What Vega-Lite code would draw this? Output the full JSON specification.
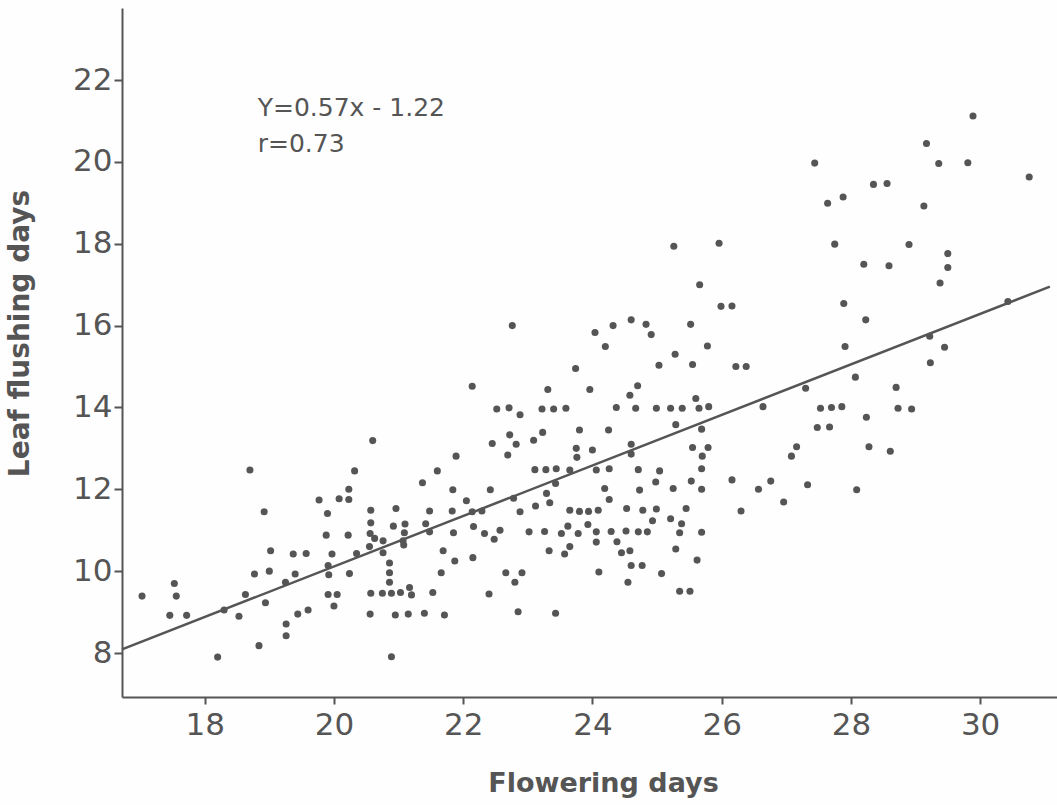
{
  "$schema": "https://vega.github.io/schema/vega-lite/v6.json",
  "width": 935,
  "height": 689,
  "autosize": {"type": "none"},
  "padding": {"left": 122, "top": 8, "right": 0, "bottom": 108},
  "background": "#fefefe",
  "config": {"view": {"stroke": null}},
  "datasets": {
    "points": [
      {"flowering": 17.03, "leaf": 9.39}, {"flowering": 17.53, "leaf": 9.7}, {"flowering": 17.56, "leaf": 9.39}, {"flowering": 17.46, "leaf": 8.92}, {"flowering": 17.72, "leaf": 8.92},
      {"flowering": 18.7, "leaf": 12.47}, {"flowering": 18.92, "leaf": 11.45}, {"flowering": 19.02, "leaf": 10.5}, {"flowering": 18.77, "leaf": 9.93}, {"flowering": 19.0, "leaf": 10.0},
      {"flowering": 18.63, "leaf": 9.43}, {"flowering": 18.3, "leaf": 9.05}, {"flowering": 18.53, "leaf": 8.9}, {"flowering": 18.94, "leaf": 9.23}, {"flowering": 18.2, "leaf": 7.9},
      {"flowering": 18.84, "leaf": 8.18}, {"flowering": 19.26, "leaf": 8.71}, {"flowering": 19.26, "leaf": 8.42}, {"flowering": 19.44, "leaf": 8.95}, {"flowering": 19.6, "leaf": 9.05},
      {"flowering": 19.25, "leaf": 9.73}, {"flowering": 19.4, "leaf": 9.93}, {"flowering": 19.37, "leaf": 10.42}, {"flowering": 19.57, "leaf": 10.43}, {"flowering": 19.77, "leaf": 11.74},
      {"flowering": 19.9, "leaf": 11.41}, {"flowering": 20.08, "leaf": 11.77}, {"flowering": 20.23, "leaf": 11.75}, {"flowering": 20.23, "leaf": 12.0}, {"flowering": 20.32, "leaf": 12.45},
      {"flowering": 19.88, "leaf": 10.88}, {"flowering": 19.97, "leaf": 10.42}, {"flowering": 19.91, "leaf": 10.14}, {"flowering": 19.92, "leaf": 9.91}, {"flowering": 20.22, "leaf": 10.88},
      {"flowering": 20.24, "leaf": 9.94}, {"flowering": 19.91, "leaf": 9.43}, {"flowering": 20.05, "leaf": 9.43}, {"flowering": 20.0, "leaf": 9.15}, {"flowering": 20.35, "leaf": 10.43},
      {"flowering": 20.6, "leaf": 13.19}, {"flowering": 20.57, "leaf": 11.49}, {"flowering": 20.57, "leaf": 11.18}, {"flowering": 20.56, "leaf": 10.92}, {"flowering": 20.63, "leaf": 10.8},
      {"flowering": 20.76, "leaf": 10.74}, {"flowering": 20.55, "leaf": 10.6}, {"flowering": 20.76, "leaf": 10.45}, {"flowering": 20.86, "leaf": 10.2}, {"flowering": 20.86, "leaf": 9.96},
      {"flowering": 20.86, "leaf": 9.73}, {"flowering": 20.57, "leaf": 9.46}, {"flowering": 20.75, "leaf": 9.46}, {"flowering": 20.89, "leaf": 9.46}, {"flowering": 21.03, "leaf": 9.48},
      {"flowering": 21.17, "leaf": 9.6}, {"flowering": 21.2, "leaf": 9.42}, {"flowering": 21.53, "leaf": 9.48}, {"flowering": 20.56, "leaf": 8.95}, {"flowering": 20.95, "leaf": 8.93},
      {"flowering": 21.15, "leaf": 8.95}, {"flowering": 21.4, "leaf": 8.97}, {"flowering": 21.71, "leaf": 8.93}, {"flowering": 20.89, "leaf": 7.91}, {"flowering": 20.96, "leaf": 11.53},
      {"flowering": 20.92, "leaf": 11.1}, {"flowering": 21.1, "leaf": 11.15}, {"flowering": 21.09, "leaf": 10.94}, {"flowering": 21.07, "leaf": 10.74}, {"flowering": 21.08, "leaf": 10.64},
      {"flowering": 21.37, "leaf": 12.16}, {"flowering": 21.48, "leaf": 11.47}, {"flowering": 21.42, "leaf": 11.16}, {"flowering": 21.48, "leaf": 10.96}, {"flowering": 21.6, "leaf": 12.45},
      {"flowering": 21.89, "leaf": 12.81}, {"flowering": 21.84, "leaf": 11.99}, {"flowering": 22.05, "leaf": 11.72}, {"flowering": 21.83, "leaf": 11.47}, {"flowering": 21.85, "leaf": 10.94},
      {"flowering": 21.69, "leaf": 10.5}, {"flowering": 21.87, "leaf": 10.25}, {"flowering": 21.66, "leaf": 9.96}, {"flowering": 22.16, "leaf": 11.09}, {"flowering": 22.15, "leaf": 10.33},
      {"flowering": 22.29, "leaf": 11.47}, {"flowering": 22.14, "leaf": 11.45}, {"flowering": 22.42, "leaf": 11.99}, {"flowering": 22.33, "leaf": 10.92}, {"flowering": 22.48, "leaf": 10.78},
      {"flowering": 22.57, "leaf": 11.0}, {"flowering": 22.4, "leaf": 9.44}, {"flowering": 22.45, "leaf": 13.12}, {"flowering": 22.72, "leaf": 13.33}, {"flowering": 22.82, "leaf": 13.1},
      {"flowering": 22.69, "leaf": 12.84}, {"flowering": 23.09, "leaf": 13.2}, {"flowering": 23.11, "leaf": 12.48}, {"flowering": 22.78, "leaf": 11.78}, {"flowering": 22.88, "leaf": 11.45},
      {"flowering": 23.12, "leaf": 11.59}, {"flowering": 23.02, "leaf": 10.96}, {"flowering": 22.66, "leaf": 9.96}, {"flowering": 22.91, "leaf": 9.96}, {"flowering": 22.8, "leaf": 9.73},
      {"flowering": 22.85, "leaf": 9.01},
      {"flowering": 22.76, "leaf": 16.0}, {"flowering": 22.14, "leaf": 14.52}, {"flowering": 23.31, "leaf": 14.44}, {"flowering": 23.96, "leaf": 14.44}, {"flowering": 24.04, "leaf": 15.83},
      {"flowering": 24.32, "leaf": 16.0}, {"flowering": 24.2, "leaf": 15.49}, {"flowering": 23.74, "leaf": 14.95}, {"flowering": 22.52, "leaf": 13.96}, {"flowering": 22.71, "leaf": 13.99},
      {"flowering": 22.88, "leaf": 13.82}, {"flowering": 23.22, "leaf": 13.96}, {"flowering": 23.4, "leaf": 13.96}, {"flowering": 23.59, "leaf": 13.98}, {"flowering": 24.37, "leaf": 14.0},
      {"flowering": 23.23, "leaf": 13.39}, {"flowering": 23.8, "leaf": 13.45}, {"flowering": 24.25, "leaf": 13.45}, {"flowering": 23.75, "leaf": 13.0}, {"flowering": 24.0, "leaf": 12.96},
      {"flowering": 23.76, "leaf": 12.78},
      {"flowering": 24.7, "leaf": 14.53}, {"flowering": 24.58, "leaf": 14.3}, {"flowering": 24.67, "leaf": 13.98}, {"flowering": 24.99, "leaf": 13.98}, {"flowering": 25.21, "leaf": 13.98},
      {"flowering": 25.39, "leaf": 13.98}, {"flowering": 25.65, "leaf": 13.98}, {"flowering": 25.8, "leaf": 14.02}, {"flowering": 25.6, "leaf": 14.22}, {"flowering": 25.29, "leaf": 13.58},
      {"flowering": 25.69, "leaf": 13.47}, {"flowering": 24.6, "leaf": 13.1}, {"flowering": 24.6, "leaf": 12.86}, {"flowering": 25.55, "leaf": 13.02}, {"flowering": 25.79, "leaf": 13.02},
      {"flowering": 25.7, "leaf": 12.81}, {"flowering": 23.28, "leaf": 12.48}, {"flowering": 23.44, "leaf": 12.5}, {"flowering": 23.65, "leaf": 12.47}, {"flowering": 24.06, "leaf": 12.47},
      {"flowering": 24.26, "leaf": 12.5}, {"flowering": 24.71, "leaf": 12.48}, {"flowering": 25.04, "leaf": 12.45}, {"flowering": 25.69, "leaf": 12.5}, {"flowering": 23.43, "leaf": 12.14},
      {"flowering": 23.29, "leaf": 11.9}, {"flowering": 24.19, "leaf": 12.02}, {"flowering": 24.26, "leaf": 11.75}, {"flowering": 24.73, "leaf": 11.98}, {"flowering": 24.98, "leaf": 12.18},
      {"flowering": 25.25, "leaf": 12.02}, {"flowering": 25.53, "leaf": 12.2}, {"flowering": 25.69, "leaf": 12.0}, {"flowering": 23.34, "leaf": 11.67}, {"flowering": 23.65, "leaf": 11.49},
      {"flowering": 23.8, "leaf": 11.46}, {"flowering": 23.94, "leaf": 11.46}, {"flowering": 24.09, "leaf": 11.49}, {"flowering": 24.53, "leaf": 11.53}, {"flowering": 24.78, "leaf": 11.49},
      {"flowering": 24.99, "leaf": 11.52}, {"flowering": 25.45, "leaf": 11.53}, {"flowering": 24.93, "leaf": 11.23}, {"flowering": 25.21, "leaf": 11.28}, {"flowering": 25.38, "leaf": 11.16},
      {"flowering": 23.62, "leaf": 11.1}, {"flowering": 23.93, "leaf": 11.14}, {"flowering": 23.26, "leaf": 10.97}, {"flowering": 23.52, "leaf": 10.92}, {"flowering": 23.78, "leaf": 10.92},
      {"flowering": 24.06, "leaf": 10.96}, {"flowering": 24.29, "leaf": 10.97}, {"flowering": 24.52, "leaf": 10.98}, {"flowering": 24.71, "leaf": 10.96}, {"flowering": 24.85, "leaf": 10.96},
      {"flowering": 25.35, "leaf": 10.94}, {"flowering": 25.69, "leaf": 10.95}, {"flowering": 24.06, "leaf": 10.71}, {"flowering": 24.38, "leaf": 10.72}, {"flowering": 23.65, "leaf": 10.6},
      {"flowering": 23.33, "leaf": 10.5}, {"flowering": 23.57, "leaf": 10.42}, {"flowering": 24.45, "leaf": 10.45}, {"flowering": 24.58, "leaf": 10.5}, {"flowering": 25.29, "leaf": 10.54},
      {"flowering": 25.62, "leaf": 10.27}, {"flowering": 24.6, "leaf": 10.14}, {"flowering": 24.77, "leaf": 10.14}, {"flowering": 24.1, "leaf": 9.98}, {"flowering": 25.07, "leaf": 9.94},
      {"flowering": 24.55, "leaf": 9.73}, {"flowering": 25.35, "leaf": 9.51}, {"flowering": 25.51, "leaf": 9.51}, {"flowering": 23.43, "leaf": 8.97},
      {"flowering": 25.26, "leaf": 17.94}, {"flowering": 25.96, "leaf": 18.01}, {"flowering": 25.66, "leaf": 17.0}, {"flowering": 25.99, "leaf": 16.47}, {"flowering": 26.16, "leaf": 16.48},
      {"flowering": 24.6, "leaf": 16.14}, {"flowering": 24.83, "leaf": 16.03}, {"flowering": 24.91, "leaf": 15.78}, {"flowering": 25.52, "leaf": 16.03}, {"flowering": 25.78, "leaf": 15.5},
      {"flowering": 25.28, "leaf": 15.3}, {"flowering": 25.03, "leaf": 15.03}, {"flowering": 25.55, "leaf": 15.05}, {"flowering": 26.22, "leaf": 15.0}, {"flowering": 26.38, "leaf": 15.0},
      {"flowering": 27.89, "leaf": 16.54}, {"flowering": 28.23, "leaf": 16.14}, {"flowering": 27.91, "leaf": 15.49}, {"flowering": 28.07, "leaf": 14.74}, {"flowering": 28.7, "leaf": 14.49},
      {"flowering": 27.3, "leaf": 14.47}, {"flowering": 26.64, "leaf": 14.02}, {"flowering": 27.53, "leaf": 13.98}, {"flowering": 27.7, "leaf": 14.0}, {"flowering": 27.86, "leaf": 14.02},
      {"flowering": 28.73, "leaf": 13.98}, {"flowering": 27.48, "leaf": 13.51}, {"flowering": 27.67, "leaf": 13.52}, {"flowering": 28.24, "leaf": 13.76}, {"flowering": 27.16, "leaf": 13.04},
      {"flowering": 27.08, "leaf": 12.81}, {"flowering": 28.28, "leaf": 13.04}, {"flowering": 28.61, "leaf": 12.93}, {"flowering": 26.16, "leaf": 12.23}, {"flowering": 26.57, "leaf": 12.0},
      {"flowering": 26.76, "leaf": 12.2}, {"flowering": 27.33, "leaf": 12.11}, {"flowering": 28.09, "leaf": 11.99}, {"flowering": 26.96, "leaf": 11.69}, {"flowering": 26.3, "leaf": 11.47},
      {"flowering": 28.94, "leaf": 13.96},
      {"flowering": 29.89, "leaf": 21.12}, {"flowering": 29.17, "leaf": 20.45}, {"flowering": 29.36, "leaf": 19.96}, {"flowering": 29.81, "leaf": 19.98}, {"flowering": 30.76, "leaf": 19.63},
      {"flowering": 28.35, "leaf": 19.45}, {"flowering": 28.56, "leaf": 19.47}, {"flowering": 29.13, "leaf": 18.92}, {"flowering": 28.9, "leaf": 17.98}, {"flowering": 29.5, "leaf": 17.76},
      {"flowering": 29.5, "leaf": 17.42}, {"flowering": 29.38, "leaf": 17.04}, {"flowering": 28.2, "leaf": 17.5}, {"flowering": 28.59, "leaf": 17.46}, {"flowering": 30.43, "leaf": 16.59},
      {"flowering": 29.22, "leaf": 15.74}, {"flowering": 29.45, "leaf": 15.47}, {"flowering": 29.23, "leaf": 15.09},
      {"flowering": 27.44, "leaf": 19.97}, {"flowering": 27.64, "leaf": 18.99}, {"flowering": 27.88, "leaf": 19.14}, {"flowering": 27.75, "leaf": 17.99}
    ],
    "fit": [
      {"flowering": 16.72, "leaf": 8.09},
      {"flowering": 31.08, "leaf": 16.95}
    ],
    "notes": [
      {"flowering": 18.82, "leaf": 21.12, "label": "Y=0.57x - 1.22"},
      {"flowering": 18.82, "leaf": 20.24, "label": "r=0.73"}
    ]
  },
  "encoding": {
    "x": {
      "field": "flowering",
      "type": "quantitative",
      "scale": {"domain": [16.72, 31.19], "nice": false, "zero": false},
      "axis": {
        "title": "Flowering days",
        "values": [18, 20, 22, 24, 26, 28, 30],
        "grid": false,
        "domainColor": "#555555",
        "domainWidth": 2,
        "tickColor": "#555555",
        "tickWidth": 2,
        "tickSize": 7,
        "labelFont": "DejaVu Sans",
        "labelFontSize": 31,
        "labelColor": "#555555",
        "labelPadding": 6,
        "labelFlush": false,
        "titleFont": "DejaVu Sans",
        "titleFontSize": 27,
        "titleFontWeight": "bold",
        "titleColor": "#555555",
        "titleBaseline": "alphabetic",
        "titleX": 481,
        "titleY": 94
      }
    },
    "y": {
      "field": "leaf",
      "type": "quantitative",
      "scale": {"domain": [6.925, 23.76], "nice": false, "zero": false},
      "axis": {
        "title": "Leaf flushing days",
        "values": [8, 10, 12, 14, 16, 18, 20, 22],
        "grid": false,
        "domainColor": "#555555",
        "domainWidth": 2,
        "tickColor": "#555555",
        "tickWidth": 2,
        "tickSize": 8,
        "labelFont": "DejaVu Sans",
        "labelFontSize": 31,
        "labelColor": "#555555",
        "labelPadding": 2,
        "labelFlush": false,
        "titleFont": "DejaVu Sans",
        "titleFontSize": 28,
        "titleFontWeight": "bold",
        "titleColor": "#555555",
        "titleX": -88,
        "titleY": 325
      }
    }
  },
  "layer": [
    {
      "data": {"name": "points"},
      "mark": {"type": "point", "filled": true, "shape": "circle", "size": 50, "color": "#555555", "opacity": 1}
    },
    {
      "data": {"name": "fit"},
      "mark": {"type": "line", "color": "#555555", "strokeWidth": 2.5}
    },
    {
      "data": {"name": "notes"},
      "mark": {"type": "text", "align": "left", "baseline": "alphabetic", "font": "DejaVu Sans", "fontSize": 25, "color": "#555555"},
      "encoding": {"text": {"field": "label", "type": "nominal"}}
    }
  ]
}
